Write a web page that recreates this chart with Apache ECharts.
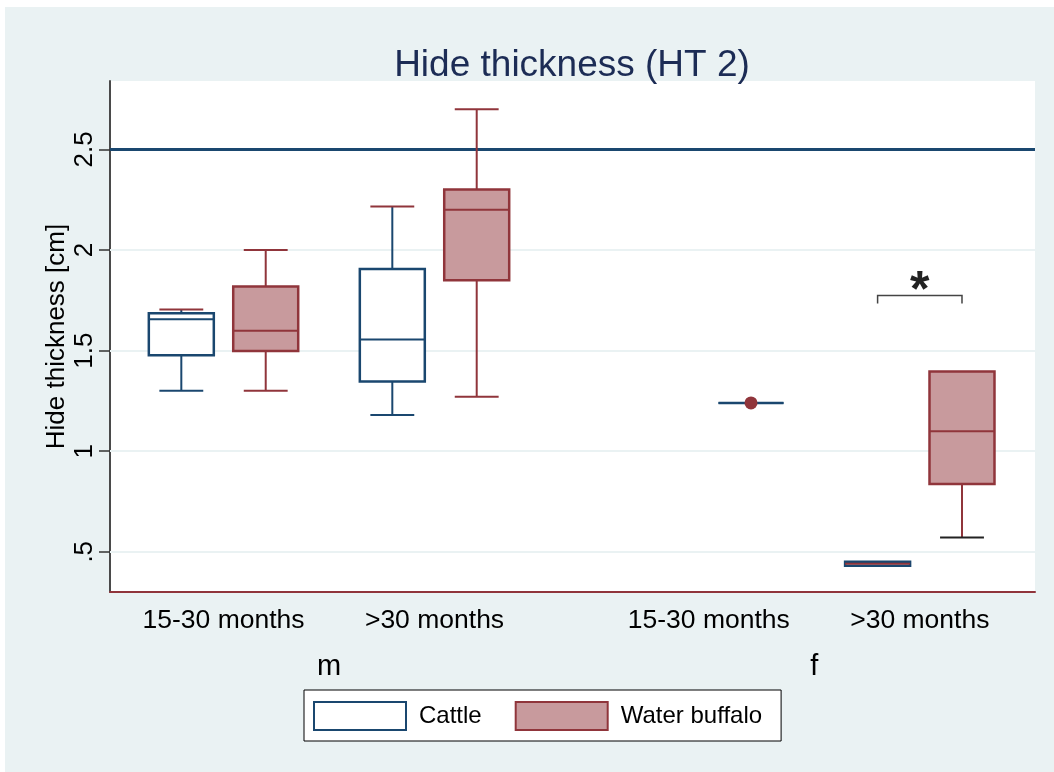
<!DOCTYPE html>
<html>
<head>
    <meta charset="UTF-8">
    <title>Hide thickness (HT 2)</title>
    <script src="https://cdn.jsdelivr.net/npm/echarts@6/dist/echarts.min.js"></script>
    <style>
        *{margin:0;padding:0;}
        body,html{ width:100%; height:100%; background:#fff; }
        #main{ width:1054px; height:772px; }
    </style>
</head>
<body>
<div id="main"></div>
<script>
    // groups, in plot order: m 15-30, m >30, f 15-30, f >30
    var sexLabels = ['m', 'f'];
    var ageLabels = ['15-30 months', '>30 months'];
    var yTicks = [0.5, 1, 1.5, 2, 2.5];
    var refValue = 2.5;

    // [min, q1, median, q3, max] per group, null = no box
    var cattleStats = [
        [1.30, 1.477, 1.656, 1.686, 1.704],
        [1.18, 1.346, 1.555, 1.906, 2.216],
        null,
        [0.43, 0.43, 0.44, 0.45, 0.45]
    ];
    var buffaloStats = [
        [1.30, 1.498, 1.598, 1.818, 2.00],
        [1.271, 1.85, 2.20, 2.301, 2.70],
        [1.24, 1.24, 1.24, 1.24, 1.24],
        [0.571, 0.837, 1.099, 1.396, 1.396]
    ];
    var buffaloOutside = [null, null, 1.24, null];
    // significance bracket: group index and height
    var sigGroup = 3;
    var sigValue = 1.774;

    var NAVY = '#1a476f', MAROON = '#90353b', FILL = '#c89a9d', BG = '#eaf2f3';
    var BOX_W = 0.77, CAP_W = 0.52;

    // odd colours in the original caps / lines
    var cattleStyle = [
        {capTop: MAROON}, {capTop: MAROON}, {}, {median: MAROON}
    ];
    var buffaloStyle = [
        {}, {}, {box: NAVY, median: NAVY}, {capBottom: '#222'}
    ];

    // x slot of a box: sex block, age block, species offset
    function slot(g, sp) {
        var sex = Math.floor(g / 2), age = g % 2;
        return sex * 5.75 + age * 2.5 + sp;
    }

    function buildData(stats, sp) {
        var out = [];
        stats.forEach(function (s, g) {
            if (!s) return;
            out.push({value: [slot(g, sp)].concat(s).concat([g])});
        });
        return out;
    }

    function boxRenderer(color, fill, styles, outside) {
        return function (params, api) {
            var x = api.value(0);
            var g = api.value(6);
            var st = styles[g] || {};
            var half = api.size([BOX_W, 0])[0] / 2;
            var capHalf = api.size([CAP_W, 0])[0] / 2;
            var pMin = api.coord([x, api.value(1)]);
            var pQ1 = api.coord([x, api.value(2)]);
            var pMed = api.coord([x, api.value(3)]);
            var pQ3 = api.coord([x, api.value(4)]);
            var pMax = api.coord([x, api.value(5)]);
            var cx = pMed[0];
            var ch = [];
            if (pMax[1] < pQ3[1]) {
                ch.push({type: 'line', shape: {x1: cx, y1: pQ3[1], x2: cx, y2: pMax[1]}, style: {stroke: color, lineWidth: 2}});
                ch.push({type: 'line', shape: {x1: cx - capHalf, y1: pMax[1], x2: cx + capHalf, y2: pMax[1]}, style: {stroke: st.capTop || color, lineWidth: 2}});
            }
            if (pMin[1] > pQ1[1]) {
                ch.push({type: 'line', shape: {x1: cx, y1: pQ1[1], x2: cx, y2: pMin[1]}, style: {stroke: color, lineWidth: 2}});
                ch.push({type: 'line', shape: {x1: cx - capHalf, y1: pMin[1], x2: cx + capHalf, y2: pMin[1]}, style: {stroke: st.capBottom || color, lineWidth: 2}});
            }
            ch.push({type: 'rect', shape: {x: cx - half, y: pQ3[1], width: half * 2, height: pQ1[1] - pQ3[1]},
                style: {fill: fill, stroke: st.box || color, lineWidth: 2.5}});
            ch.push({type: 'line', shape: {x1: cx - half, y1: pMed[1], x2: cx + half, y2: pMed[1]},
                style: {stroke: st.median || color, lineWidth: 2}});
            if (outside && outside[g] != null) {
                var po = api.coord([x, outside[g]]);
                ch.push({type: 'circle', shape: {cx: po[0], cy: po[1], r: 6.5}, style: {fill: MAROON}});
            }
            return {type: 'group', children: ch};
        };
    }

    var X_MIN = -0.845, X_MAX = 10.115;
    var ageTickPos = [0.5, 3, 6.25, 8.75];
    var sexTickPos = [1.75, 7.5];

    var chart = echarts.init(document.getElementById('main'));
    var option = {
        backgroundColor: '#fff',
        animation: false,
        textStyle: {fontFamily: 'Liberation Sans, Arial, sans-serif'},
        graphic: [{
            type: 'rect', left: 5, top: 7, z: -100,
            shape: {width: 1049, height: 765},
            style: {fill: BG}
        }],
        title: {
            text: 'Hide thickness (HT 2)',
            left: 567, top: 42, textAlign: 'center',
            textStyle: {fontSize: 37, fontWeight: 'normal', color: '#1c2c55'}
        },
        grid: {
            left: 110, right: 19, top: 81, bottom: 180,
            show: true, backgroundColor: '#fff', borderWidth: 0
        },
        legend: {
            left: 304, top: 690,
            padding: [11, 19, 10, 9],
            itemWidth: 92, itemHeight: 28, itemGap: 33,
            backgroundColor: '#fff', borderColor: '#000', borderWidth: 1,
            selectedMode: false,
            textStyle: {fontSize: 24, color: '#000', padding: [0, 0, 0, 8]},
            data: [
                {name: 'Cattle', icon: 'rect', itemStyle: {color: '#fff', borderColor: NAVY, borderWidth: 2}},
                {name: 'Water buffalo', icon: 'rect', itemStyle: {color: FILL, borderColor: MAROON, borderWidth: 2}}
            ]
        },
        xAxis: [{
            type: 'value', min: X_MIN, max: X_MAX,
            axisLine: {show: true, onZero: false, lineStyle: {color: MAROON, width: 2}},
            axisTick: {show: false},
            splitLine: {show: false},
            axisLabel: {
                customValues: ageTickPos,
                formatter: function (v) { return ageLabels[ageTickPos.indexOf(v) % 2]; },
                fontSize: 26.5, color: '#000', margin: 15
            }
        }, {
            type: 'value', min: X_MIN, max: X_MAX, position: 'bottom',
            axisLine: {show: false, onZero: false}, axisTick: {show: false}, splitLine: {show: false},
            axisLabel: {
                customValues: sexTickPos,
                formatter: function (v) { return sexLabels[sexTickPos.indexOf(v)]; },
                fontSize: 29, color: '#000', margin: 60
            }
        }],
        yAxis: {
            type: 'value', min: 0.3, max: 2.84,
            name: 'Hide thickness [cm]', nameLocation: 'middle', nameGap: 40,
            nameMoveOverlap: false,
            nameTextStyle: {fontSize: 26, color: '#000'},
            axisLine: {show: true, onZero: false, lineStyle: {color: '#4a4a4a', width: 2}},
            axisTick: {show: true, customValues: yTicks, length: 11, lineStyle: {color: '#333', width: 1.5}},
            splitLine: {show: false},
            axisLabel: {
                customValues: yTicks, rotate: 90, fontSize: 26, color: '#000', margin: 12,
                formatter: function (v) { return v === 0.5 ? '.5' : String(v); }
            }
        },
        series: [{
            name: 'grid', type: 'line', data: [], z: 1, silent: true,
            markLine: {
                silent: true, symbol: 'none', label: {show: false}, z: 1,
                lineStyle: {color: BG, width: 2, type: 'solid'},
                data: yTicks.filter(function (v) { return v !== refValue; }).map(function (v) { return {yAxis: v}; })
            }
        }, {
            name: 'ref', type: 'line', data: [], z: 2, silent: true,
            markLine: {
                silent: true, symbol: 'none', label: {show: false}, z: 2,
                lineStyle: {color: NAVY, width: 3, type: 'solid'},
                data: [{yAxis: refValue}]
            }
        }, {
            name: 'Cattle', type: 'custom', z: 3,
            itemStyle: {color: '#fff', borderColor: NAVY},
            encode: {x: 0, y: [1, 2, 3, 4, 5]},
            renderItem: boxRenderer(NAVY, '#fff', cattleStyle, null),
            data: buildData(cattleStats, 0)
        }, {
            name: 'Water buffalo', type: 'custom', z: 3,
            itemStyle: {color: FILL, borderColor: MAROON},
            encode: {x: 0, y: [1, 2, 3, 4, 5]},
            renderItem: boxRenderer(MAROON, FILL, buffaloStyle, buffaloOutside),
            data: buildData(buffaloStats, 1)
        }, {
            name: 'sig', type: 'custom', z: 4, silent: true,
            encode: {x: [0, 1], y: 2},
            renderItem: function (params, api) {
                var p1 = api.coord([api.value(0), api.value(2)]);
                var p2 = api.coord([api.value(1), api.value(2)]);
                return {type: 'group', children: [{
                    type: 'polyline',
                    shape: {points: [[p1[0], p1[1] + 8], p1, p2, [p2[0], p2[1] + 8]]},
                    style: {stroke: '#444', lineWidth: 1.5, fill: null}
                }, {
                    type: 'text',
                    style: {text: '*', x: (p1[0] + p2[0]) / 2, y: p1[1] - 3, fontSize: 50, fontWeight: 'bold',
                        fill: '#222', align: 'center', verticalAlign: 'middle',
                        fontFamily: 'Liberation Sans, Arial, sans-serif'}
                }]};
            },
            data: [[slot(sigGroup, 0), slot(sigGroup, 1), sigValue]]
        }]
    };
    chart.setOption(option);
</script>
</body>
</html>
